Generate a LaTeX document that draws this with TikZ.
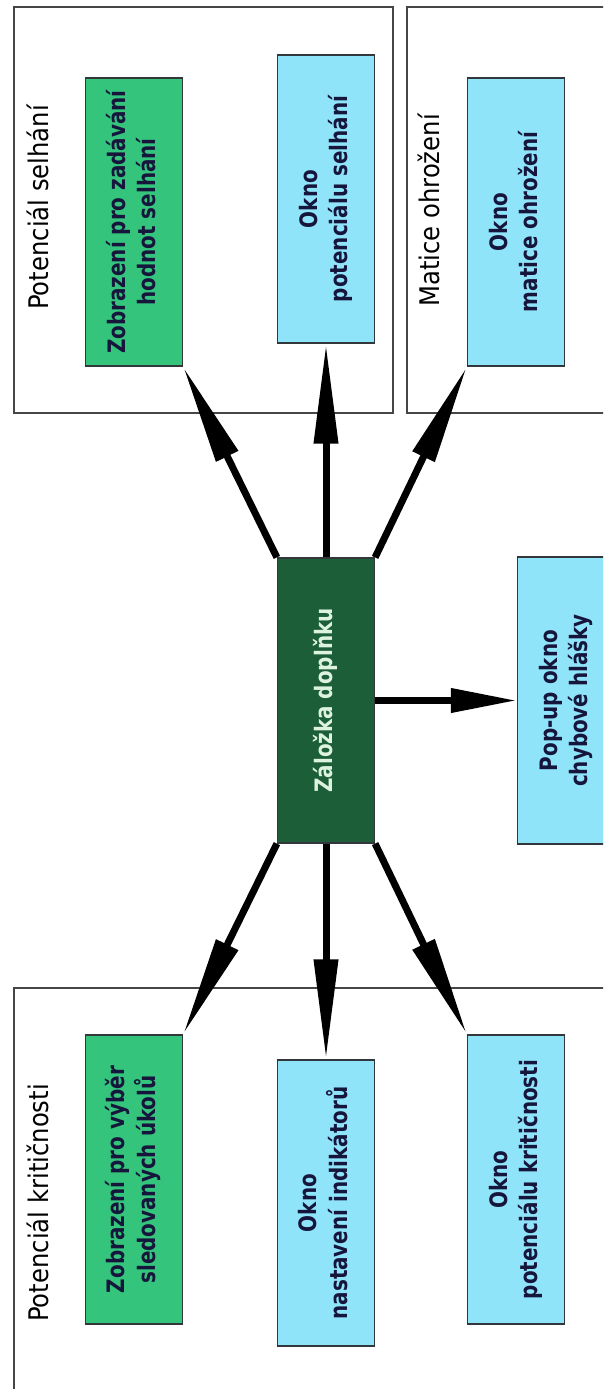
\documentclass[tikz,border=0pt]{standalone}
\usepackage{fontspec}
\usepackage{graphicx}
\setmainfont{DejaVu Sans}
\newfontfamily\boxfamily{DejaVu Sans}[FakeStretch=0.83]
\newfontfamily\lblfamily{DejaVu Sans}[FakeStretch=0.9]
\usetikzlibrary{arrows.meta}
\definecolor{gfill}{RGB}{52,196,124}
\definecolor{cfill}{RGB}{143,228,250}
\definecolor{dfill}{RGB}{27,94,56}
\definecolor{txtdark}{RGB}{22,22,60}
\definecolor{txtlight}{RGB}{222,242,224}
\definecolor{bordercol}{RGB}{50,55,60}
\definecolor{grpcol}{RGB}{70,70,70}
\newcommand\boxfont{\boxfamily\bfseries\fontsize{24}{30}\selectfont}
\newcommand\lblfont{\lblfamily\fontsize{27}{30}\selectfont}
\newcommand\rt[1]{\rotatebox{90}{\begin{tabular}{@{}c@{}}#1\end{tabular}}}
\begin{document}
\begin{tikzpicture}[x=1pt,y=-1pt,
  box/.style={draw=bordercol, line width=1.2pt, inner sep=0pt, minimum width=97pt, minimum height=288pt},
  gbox/.style={box, fill=gfill, text=txtdark, font=\boxfont},
  cbox/.style={box, fill=cfill, text=txtdark, font=\boxfont},
  dbox/.style={box, fill=dfill, text=txtlight, font=\boxfont, minimum height=285pt},
  arr/.style={line width=7pt, -{Triangle[length=100pt,width=23pt]}},
  harr/.style={line width=7pt, -{Triangle[length=66pt,width=23pt]}},
  grp/.style={draw=grpcol, line width=1.5pt},
  lbl/.style={font=\lblfont, rotate=90, anchor=west, inner sep=0pt}]
\useasboundingbox (0,0) rectangle (603,1389);
\clip (0,0) rectangle (603,1389);
\fill[white] (0,0) rectangle (603,1389);
% group frames
\draw[grp] (14,7) rectangle (393,413);
\draw[grp] (407,7) rectangle (640,413);
\draw[grp] (14,988) rectangle (640,1420);
% group labels
\node[lbl] (lS) at (38,310) {Potenciál selhání};
\node[lbl] (lM) at (429,307) {Matice ohrožení};
\node[lbl] (lK) at (37.5,1322) {Potenciál kritičnosti};
% boxes
\node[gbox] (g1) at (134,222) {\rt{Zobrazení pro zadávání\\hodnot selhání}};
\node[cbox] (c1) at (326,199) {\rt{Okno\\potenciálu selhání}};
\node[cbox] (m1) at (516,222) {\rt{Okno\\matice ohrožení}};
\node[dbox] (ctr) at (326,700.5) {\rt{Záložka doplňku}};
\node[cbox, minimum height=287pt] (pop) at (566,700.5) {\rt{Pop-up okno\\chybové hlášky}};
\node[gbox, minimum height=289pt] (g2) at (134,1179.5) {\rt{Zobrazení pro výběr\\sledovaných úkolů}};
\node[cbox, minimum height=286pt] (nast) at (326,1203) {\rt{Okno\\nastavení indikátorů}};
\node[cbox, minimum height=289pt] (krit) at (516,1179.5) {\rt{Okno\\potenciálu kritičnosti}};
% arrows
\draw[arr] (ctr.north west) -- (g1.south east);
\draw[arr] (ctr.north) -- (c1.south);
\draw[arr] (ctr.north east) -- (m1.south west);
\draw[harr] (ctr.east) -- (pop.west);
\draw[arr] (ctr.south west) -- (g2.north east);
\draw[arr] (ctr.south) -- (nast.north);
\draw[arr] (ctr.south east) -- (krit.north west);
\end{tikzpicture}
\end{document}
